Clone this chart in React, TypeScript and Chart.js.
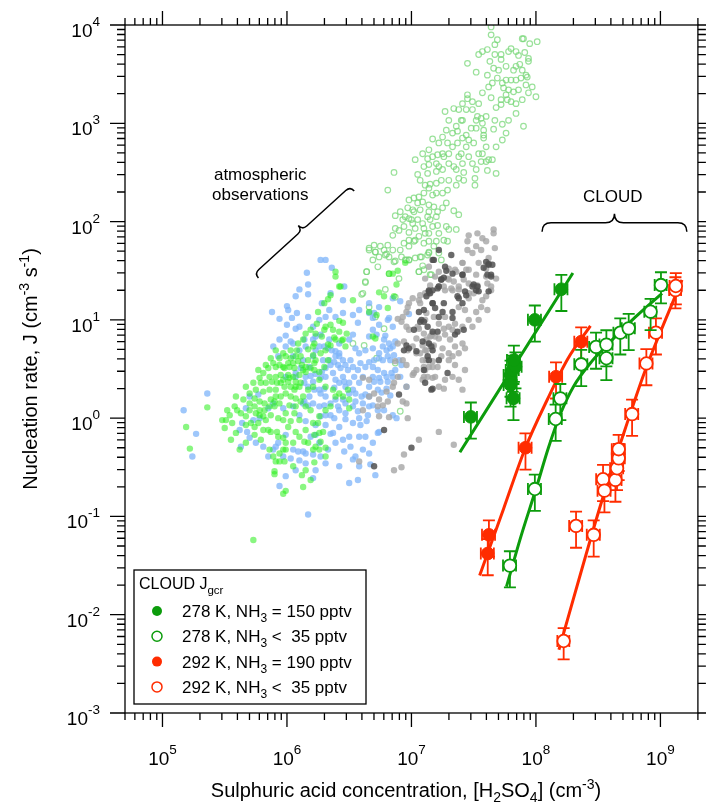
import React, { useEffect, useRef } from 'react';
import { Chart, registerables } from 'chart.js';

Chart.register(...registerables);

const FONT = '"Liberation Sans", Arial, Helvetica, sans-serif';
const GREEN = '#0c9c0c';
const RED = '#ff2c00';

// ---- axes ----
const X_MIN = 5e4;
const X_MAX = 2e9;
const Y_MIN = 1e-3;
const Y_MAX = 1e4;
const xLabelExponents = [5, 6, 7, 8, 9];
const yLabelExponents = [-3, -2, -1, 0, 1, 2, 3, 4];

// ---- CLOUD measurements (H2SO4 in cm^-3, J in cm^-3 s^-1) ----
const cold150X = [3.0e7, 6.25e7, 6.25e7, 6.5e7, 6.85e7, 6.65e7, 6.6e7, 9.8e7, 1.6e8];
const cold150Y = [1.03, 2.75, 2.18, 3.09, 3.34, 3.9, 1.59, 10.0, 20.5];
const cold150YErr = [0.4, 0.4, 0.4, 0.4, 0.4, 0.4, 0.4, 0.4, 0.4];
const cold150XErr = [0.12, 0.12, 0.12, 0.12, 0.12, 0.12, 0.12, 0.12, 0.12];

const cold35X = [6.18e7, 9.8e7, 1.44e8, 1.57e8, 2.31e8, 3.04e8, 3.68e8, 3.68e8, 4.76e8, 5.56e8, 8.34e8, 1.01e9];
const cold35Y = [0.0316, 0.19, 0.98, 1.59, 3.53, 5.3, 5.6, 4.07, 7.4, 8.2, 12.1, 22.6];
const cold35YErr = [0.4, 0.4, 0.4, 0.4, 0.4, 0.4, 0.4, 0.4, 0.4, 0.4, 0.35, 0.35];
const cold35XErr = [0.12, 0.12, 0.12, 0.12, 0.12, 0.12, 0.12, 0.12, 0.12, 0.12, 0.11, 0.11];

const warm190X = [4.1e7, 4.19e7, 8.24e7, 1.45e8, 2.31e8];
const warm190Y = [0.042, 0.065, 0.5, 2.64, 6.0];
const warm190YErr = [0.4, 0.4, 0.4, 0.4, 0.4];
const warm190XErr = [0.12, 0.12, 0.12, 0.12, 0.12];

const warm35X = [1.67e8, 2.1e8, 2.91e8, 3.46e8, 3.55e8, 4.35e8, 4.48e8, 4.62e8, 4.62e8, 5.92e8, 7.71e8, 9.2e8, 1.32e9, 1.33e9];
const warm35Y = [0.0054, 0.08, 0.065, 0.239, 0.183, 0.235, 0.309, 0.39, 0.483, 1.1, 3.6, 7.4, 20.1, 22.1];
const warm35YErr = [0.35, 0.4, 0.4, 0.4, 0.4, 0.4, 0.4, 0.4, 0.4, 0.4, 0.4, 0.4, 0.35, 0.35];
const warm35XErr = [0.11, 0.12, 0.12, 0.12, 0.12, 0.12, 0.12, 0.12, 0.12, 0.12, 0.12, 0.12, 0.11, 0.11];

// ---- CLOUD fit curves ----
const cold150FitX = [2.45e7, 1.98e8];
const cold150FitY = [0.45, 30];
const cold35FitX = [5.8e7, 7.59e7, 1.0e8, 1.26e8, 1.58e8, 2.0e8, 2.82e8, 3.98e8, 6.31e8, 1.03e9];
const cold35FitY = [0.0193, 0.063, 0.19, 0.5, 1.12, 2.09, 3.8, 6.03, 10.7, 18.6];
const warm190FitX = [3.53e7, 5.5e7, 8.24e7, 1.23e8, 1.8e8, 2.74e8];
const warm190FitY = [0.025, 0.12, 0.5, 1.53, 4.0, 8.7];
const warm35FitX = [1.53e8, 3.4e8, 5.4e8, 7.57e8, 1.49e9];
const warm35FitY = [0.0044, 0.147, 0.89, 3.09, 25.5];

// ---- atmospheric observations, as [log10 H2SO4, log10 J] ----
const obsBlueLog: number[][] = [
  [6.27,1.61],[6.31,1.61],[6.36,1.53],[6.16,1.48],[6.10,1.31],[6.17,1.36],[6.17,1.26],[6.07,1.24],[5.88,1.08],[6.00,1.14],
  [6.01,1.10],[6.08,1.07],[5.94,1.01],[6.04,1.02],[6.00,0.95],[6.17,1.03],[6.07,0.91],[5.99,0.84],[6.03,0.78],[6.14,0.80],
  [6.23,0.83],[6.27,0.85],[6.35,1.27],[6.45,1.20],[6.46,1.34],[6.28,1.17],[6.57,0.97],[6.66,1.07],[6.70,1.07],[6.69,1.02],
  [6.81,1.00],[6.82,1.02],[6.85,1.22],[6.91,1.19],[6.98,1.06],[6.66,0.83],[6.72,0.85],[6.79,0.84],[6.55,0.71],[6.58,0.66],
  [6.51,0.59],[6.42,0.66],[6.39,0.63],[6.41,0.54],[6.43,0.51],[6.34,0.59],[6.29,0.59],[6.26,0.73],[6.23,0.69],[6.21,0.63],
  [6.18,0.52],[6.13,0.59],[6.11,0.51],[6.05,0.63],[6.07,0.42],[6.15,0.42],[6.21,0.37],[6.27,0.41],[6.31,0.42],[6.37,0.46],
  [6.39,0.39],[6.45,0.42],[6.47,0.32],[6.53,0.29],[6.58,0.36],[6.61,0.42],[6.66,0.32],[6.69,0.52],[6.73,0.49],[6.78,0.46],
  [6.80,0.42],[6.77,0.59],[6.74,0.66],[6.80,0.69],[6.83,0.71],[6.85,0.73],[6.90,0.59],[6.92,0.54],[6.84,0.46],[6.66,0.22],
  [6.63,0.24],[6.60,0.22],[6.55,0.25],[6.50,0.25],[6.45,0.19],[6.39,0.19],[6.35,0.15],[6.31,0.22],[6.27,0.25],[6.21,0.15],
  [6.18,0.22],[6.14,0.17],[6.07,0.46],[5.99,0.42],[5.93,0.63],[5.70,0.22],[5.77,0.24],[5.67,0.10],[5.36,0.25],[5.17,0.08],
  [5.27,-0.16],[5.24,-0.39],[5.63,-0.29],[5.68,-0.14],[5.91,-0.29],[5.93,-0.25],[5.99,-0.17],[6.05,-0.32],[6.09,-0.34],[6.13,-0.34],
  [6.15,-0.36],[6.21,-0.37],[6.19,-0.19],[6.23,-0.17],[6.35,-0.16],[6.37,-0.15],[6.26,-0.25],[6.23,-0.07],[6.27,0.02],[6.31,0.03],
  [6.35,0.03],[6.38,0.00],[6.47,-0.01],[6.47,0.05],[6.53,0.12],[6.57,0.07],[6.65,0.03],[6.59,-0.07],[6.64,-0.03],[6.74,-0.14],
  [6.73,-0.15],[6.85,0.03],[6.88,0.00],[6.83,0.23],[6.80,0.30],[6.75,0.37],[6.91,0.42],[6.96,0.32],[6.58,-0.19],[6.51,-0.29],
  [6.46,-0.34],[6.53,-0.42],[6.55,-0.39],[6.61,-0.32],[6.67,-0.47],[6.71,-0.58],[6.57,-0.63],[6.50,-0.66],[6.21,-0.61],[6.17,-0.98],
  [5.94,-0.69],[5.85,-0.39],[6.13,0.15],[6.17,0.13],[6.30,0.13],[6.41,0.12],[6.69,0.13],[6.73,0.08],[6.78,0.08],
  [6.30,0.73],[6.33,0.71],[6.36,0.69],[6.39,0.68],[6.42,0.63],[6.45,0.59],[6.38,0.57],[6.35,0.54],[6.31,0.51],[6.28,0.47],
  [6.23,0.45],[6.19,0.43],[6.14,0.36],[6.17,0.32],[6.22,0.29],[6.26,0.29],[6.30,0.30],[6.38,0.31],[6.42,0.36],[6.46,0.37],
  [6.50,0.36],[6.54,0.42],[6.57,0.49],[6.59,0.56],[6.53,0.52],[6.49,0.49],[6.47,0.54],[6.63,0.52],[6.69,0.42],[6.74,0.41],
  [6.70,0.37],[6.73,0.29],[6.76,0.26],[6.81,0.37],[6.85,0.42],[6.87,0.49],[6.83,0.59],[6.86,0.64],[6.81,0.63],[6.74,0.61],
  [6.70,0.59],[6.66,0.57],[6.63,0.69],[6.69,0.71],[6.77,0.73],[6.82,0.76],[6.87,0.78],[6.78,0.80],[6.69,0.90],[6.74,0.95],
  [6.85,0.93],[6.53,0.85],[6.50,0.80],[6.42,0.76],[6.34,0.80],[6.21,0.80],[6.15,0.73],[6.10,0.69],[6.05,0.76],[5.99,0.73],
  [5.94,0.80],[5.89,0.73],[6.10,0.93],[6.21,0.93],[6.26,1.00],[6.31,1.03],[6.39,1.03],[6.45,1.07],[6.53,1.05],[6.58,1.10],
  [6.66,1.17],[6.74,1.13],[6.34,1.10],[6.26,0.12],[6.42,0.08],[6.47,0.15],[6.55,0.17],[6.61,0.15],[6.66,0.12],[6.58,0.00],
  [6.53,-0.05],[6.42,-0.09],[6.31,-0.07],[6.15,-0.03],[6.10,0.03],[6.05,0.12],[5.97,0.10],[5.89,0.15],[5.85,0.10],[5.78,0.00],
  [5.73,-0.02],[5.64,-0.05],[5.62,-0.12],[5.70,-0.20],[5.75,-0.25],[5.81,-0.29],[5.89,-0.32],[5.97,-0.39],[6.03,-0.41],[6.10,-0.43],
  [6.15,-0.46],[6.27,-0.39],[6.33,-0.32],[6.39,-0.25],[6.45,-0.22],[6.50,-0.19],[6.63,-0.19],[6.69,-0.25],[6.66,-0.36],[6.58,-0.49],
  [6.42,-0.49],[6.31,-0.46],[6.23,-0.53],[6.07,-0.53],[5.99,-0.59]
];

const obsGreenLog: number[][] = [
  [6.39,1.49],[6.39,1.44],[6.43,1.34],[6.35,1.25],[6.33,1.21],[6.30,1.17],[6.25,1.08],[6.24,0.96],[6.31,0.93],[6.37,0.90],
  [6.42,0.99],[6.45,0.97],[6.48,0.86],[6.44,0.79],[6.38,0.82],[6.33,0.75],[6.35,0.74],[6.28,0.83],[6.23,0.86],[6.19,0.90],
  [6.09,0.76],[6.08,0.69],[6.07,0.63],[6.17,0.70],[6.21,0.64],[6.22,0.56],[6.19,0.51],[6.15,0.52],[6.13,0.49],[6.06,0.51],
  [6.01,0.56],[5.97,0.52],[5.91,0.52],[5.91,0.69],[5.94,0.61],[5.99,0.63],[6.03,0.61],[5.85,0.51],[5.77,0.49],[5.83,0.54],
  [5.86,0.42],[5.83,0.36],[5.79,0.36],[5.75,0.29],[5.81,0.27],[5.86,0.29],[5.91,0.29],[5.95,0.36],[5.98,0.32],[6.01,0.37],
  [6.03,0.32],[6.06,0.29],[5.99,0.25],[5.95,0.22],[5.91,0.22],[5.87,0.19],[5.82,0.15],[5.78,0.17],[5.74,0.12],[5.70,0.15],
  [5.75,0.05],[5.78,0.03],[5.81,0.02],[5.83,-0.02],[5.77,-0.05],[5.74,-0.09],[5.71,-0.05],[5.67,0.02],[5.63,0.05],[5.60,0.08],
  [5.59,0.22],[5.54,0.03],[5.51,-0.02],[5.48,-0.02],[5.50,-0.10],[5.55,-0.22],[5.59,-0.15],[5.67,-0.07],[5.79,-0.22],[5.85,-0.12],
  [5.92,-0.14],[5.97,-0.20],[5.99,-0.25],[6.07,-0.14],[6.10,-0.02],[6.06,0.05],[6.07,0.12],[6.02,0.13],[5.99,0.05],[5.97,-0.02],
  [6.03,-0.03],[6.01,-0.09],[5.93,0.00],[5.90,0.12],[5.87,0.03],[6.26,-0.15],[6.27,-0.24],[6.31,-0.30],[6.23,-0.29],[6.21,-0.32],
  [6.17,-0.25],[6.14,-0.24],[5.97,-0.32],[5.94,-0.36],[5.91,-0.44],[5.94,-0.44],[5.98,-0.44],[5.90,-0.54],[5.90,-0.57],[5.97,-0.77],
  [5.99,-0.74],[6.12,-0.58],[6.13,-0.70],[6.19,-0.63],[6.22,-0.45],[6.25,-0.05],[6.29,-0.14],[6.22,-0.17],[6.17,0.59],[6.22,0.49],
  [6.26,0.47],[6.30,0.52],[6.33,0.59],[6.26,0.39],[6.21,0.32],[6.17,0.29],[6.13,0.22],[6.10,0.32],[6.31,0.32],[6.37,0.29],
  [6.42,0.25],[6.49,0.29],[6.50,0.19],[6.50,0.10],[6.45,0.22],[6.45,0.80],[6.53,1.20],[6.42,1.34],[6.69,0.83],[6.71,0.81],
  [6.81,1.12],[6.66,1.08],[6.72,1.05],[6.74,1.28],[6.78,1.24],[6.86,1.24],[6.88,1.36],[6.82,1.47],[6.85,1.47],[6.89,1.50],
  [6.95,1.58],[5.58,0.12],[5.36,0.11],[5.19,-0.09],[5.22,-0.31],[5.73,-1.24],
  [5.89,0.56],[5.94,0.54],[5.98,0.51],[6.02,0.52],[6.05,0.56],[6.09,0.58],[6.12,0.54],[6.15,0.47],[6.10,0.44],[6.05,0.42],
  [6.01,0.44],[5.95,0.44],[5.91,0.42],[5.88,0.37],[5.92,0.36],[5.97,0.39],[6.02,0.41],[6.07,0.37],[6.11,0.36],[6.07,0.32],
  [6.03,0.22],[6.07,0.20],[6.11,0.17],[6.15,0.12],[6.19,0.08],[5.94,0.15],[5.90,0.17],[5.86,0.12],[5.82,0.08],[5.78,0.08],
  [5.74,0.20],[5.70,0.25],[5.67,0.32],[5.73,0.36],[5.78,0.41],[5.81,0.46],[5.87,0.61],[5.97,0.66],[6.03,0.69],[6.11,0.63],
  [6.23,0.59],[6.27,0.66],[6.31,0.69],[6.21,0.73],[6.13,0.80],[6.15,0.86],[6.22,0.76],[6.30,0.90],[6.35,0.95],[6.42,0.88],
  [6.39,0.80],[6.47,0.73],[6.39,0.22],[6.35,0.12],[6.31,0.08],[6.26,0.02],[6.21,-0.05],[6.15,-0.12],[6.10,-0.19],[6.05,-0.25],
  [5.99,-0.32],[5.93,-0.19],[5.87,-0.14],[5.81,-0.12],[5.74,-0.17],[5.67,-0.25],[5.62,-0.32],[5.56,-0.05],[5.52,0.08],[5.65,0.19],
  [5.70,0.08],[5.86,-0.32],[5.89,-0.39],[6.05,-0.49],[6.15,-0.53],[6.26,-0.32],[6.31,-0.39]
];

const obsOpenLog: number[][] = [
  [7.64,3.98],[7.64,3.90],[7.69,3.85],[7.67,3.80],[7.61,3.75],[7.57,3.73],[7.54,3.70],[7.67,3.70],[7.72,3.70],[7.63,3.63],
  [7.45,3.61],[7.52,3.52],[7.66,3.56],[7.72,3.65],[7.80,3.76],[7.78,3.73],[7.84,3.73],[7.89,3.86],[7.90,3.86],[7.95,3.81],
  [8.01,3.83],[7.91,3.72],[7.94,3.66],[7.94,3.63],[7.86,3.69],[7.87,3.60],[7.82,3.54],[7.89,3.54],[7.92,3.49],[7.88,3.46],
  [7.84,3.44],[7.80,3.44],[7.76,3.44],[7.73,3.41],[7.69,3.46],[7.65,3.41],[7.74,3.36],[7.78,3.34],[7.82,3.32],[7.86,3.34],
  [7.92,3.39],[7.93,3.47],[7.76,3.29],[7.80,3.22],[7.77,3.24],[7.72,3.24],[7.68,3.16],[7.64,3.26],[7.72,3.19],[8.00,3.27],
  [7.90,2.97],[7.76,2.90],[7.73,2.99],[7.67,3.03],[7.66,2.94],[7.60,3.07],[7.56,3.05],[7.53,3.07],[7.57,3.00],[7.58,2.93],
  [7.58,2.88],[7.58,2.85],[7.52,3.03],[7.52,2.95],[7.48,2.95],[7.44,3.14],[7.49,3.22],[7.45,3.25],[7.45,3.29],[7.34,3.15],
  [7.27,3.12],[7.40,3.03],[7.41,3.03],[7.36,2.97],[7.33,2.90],[7.37,2.92],[7.44,2.88],[7.41,2.85],[7.46,2.83],[7.50,2.80],
  [7.44,2.76],[7.37,2.80],[7.33,2.76],[7.29,2.80],[7.22,2.80],[7.17,2.84],[7.25,2.69],[7.21,2.68],[7.17,2.66],[7.13,2.64],
  [7.14,2.58],[7.20,2.59],[7.22,2.56],[7.26,2.66],[7.30,2.59],[7.34,2.56],[7.38,2.66],[7.40,2.69],[7.30,2.69],[7.25,2.53],
  [7.20,2.51],[7.13,2.49],[7.05,2.48],[7.24,2.42],[7.20,2.39],[7.15,2.38],[7.11,2.37],[7.20,2.29],[7.17,2.27],[7.14,2.34],
  [7.29,2.32],[7.36,2.37],[7.38,2.44],[7.42,2.42],[7.42,2.50],[7.49,2.59],[7.52,2.53],[7.51,2.44],[7.51,2.37],[7.56,2.61],
  [7.60,2.61],[7.62,2.63],[7.65,2.63],[7.61,2.52],[7.68,2.49],[7.28,2.19],[7.25,2.14],[7.18,2.15],[7.14,2.17],[7.09,2.20],
  [7.06,2.25],[7.02,2.24],[6.98,2.22],[6.97,2.14],[7.02,2.10],[7.07,2.12],[7.14,2.10],[7.21,2.10],[7.20,2.05],[7.15,2.02],
  [7.13,2.05],[7.00,2.02],[6.98,2.03],[7.01,1.98],[6.94,1.95],[6.90,1.91],[6.87,1.93],[6.85,1.86],[6.98,1.89],[7.03,1.93],
  [7.10,1.93],[7.11,1.88],[7.06,1.85],[7.02,1.80],[6.98,1.81],[6.94,1.78],[7.03,1.81],[7.10,1.78],[7.14,1.80],[7.20,1.80],
  [7.26,1.81],[7.29,1.80],[7.28,1.95],[7.30,1.92],[7.36,1.92],[7.34,2.11],[7.38,2.07],[6.91,2.10],[6.87,2.06],[6.86,2.50],
  [6.81,2.32],[7.07,1.64],[7.03,1.63],[6.98,1.61],[6.96,1.61],[6.92,1.64],[6.87,1.60],[6.82,1.64],[6.81,1.76],[6.75,1.75],
  [6.70,1.76],[6.66,1.73],[6.71,1.69],[6.80,1.67],[6.73,1.54],[6.64,1.49],[7.06,1.49],[7.10,1.51],[7.15,1.46],[7.14,1.69],
  [7.13,1.66],[6.90,1.42],[6.82,1.47],[6.63,1.39],[6.61,1.27],[7.21,1.96],[7.22,1.68],[7.24,1.61],
  [6.66,1.71],[6.71,1.69],[6.79,1.66],[6.86,1.59],[6.95,1.61],[6.98,1.61],[7.08,1.64],[7.14,1.68],[7.09,1.55],[7.06,1.49],
  [7.16,1.46],[6.64,1.49],[6.63,1.38],[6.60,1.26],[6.66,1.13],[6.71,1.03],[6.79,1.31],[6.87,1.23],[6.53,0.76],[6.62,0.74],
  [6.72,0.61],[6.87,0.56],[6.91,0.07],[6.78,0.91],
  [7.10,2.56],[7.07,2.42],[7.10,2.29],[7.05,2.19],[7.01,2.12],[6.95,2.05],[6.93,2.02],[7.05,2.02],[7.09,1.98],[7.17,1.95],
  [7.22,1.88],[7.18,1.75],[7.14,1.88],[6.98,1.75],[6.91,1.71],[6.85,1.71],[6.78,1.71],[6.74,1.64],[6.69,1.61],[7.25,2.29],
  [7.30,2.42],[7.36,2.53],[7.41,2.59],[7.46,2.66],[7.54,2.69],[7.60,2.76],[7.57,2.69],[7.68,2.76],[7.73,2.83],[7.78,3.03],
  [7.84,3.10],[7.84,3.20],[7.89,3.24],[7.94,3.31],[7.97,3.37],[7.84,3.58],[7.76,3.58],[7.70,3.54],[7.61,3.49],[7.62,3.37],
  [7.57,3.31],[7.54,3.20],[7.49,3.14],[7.41,3.20],[7.38,3.14],[7.30,3.03],[7.28,2.93],[7.25,2.86],[7.14,2.73],[7.09,2.69],
  [7.03,2.63]
];

const obsGrayLightLog: number[][] = [
  [7.54,1.58],[7.60,1.52],[7.52,1.46],[7.46,1.51],[7.35,1.51],[7.30,1.52],[7.41,1.58],[7.22,1.49],[7.11,1.42],[7.15,1.35],
  [7.22,1.34],[7.27,1.30],[7.33,1.30],[7.38,1.34],[7.46,1.37],[7.53,1.35],[7.61,1.37],[7.64,1.30],[7.57,1.20],[7.60,1.24],
  [7.46,1.22],[7.38,1.13],[7.43,1.10],[7.52,1.08],[7.46,1.00],[7.35,0.96],[7.27,1.03],[7.30,0.93],[7.22,0.96],[7.18,1.03],
  [7.11,1.00],[7.10,0.86],[7.15,0.83],[7.22,0.81],[7.27,0.85],[7.31,0.80],[7.41,0.76],[7.43,0.71],[7.35,0.73],[7.25,0.71],
  [7.18,0.74],[7.11,0.69],[7.09,0.59],[7.14,0.52],[7.21,0.52],[7.30,0.59],[7.33,0.63],[7.27,0.39],[7.22,0.32],[7.09,0.39],
  [7.13,0.42],[7.41,0.29],[7.26,0.30],[7.35,0.54],[7.06,0.91],[7.07,1.17],[7.11,1.27],
  [6.89,1.01],[6.93,1.03],[6.96,1.08],[6.97,1.13],[6.92,0.98],[6.96,0.93],[6.98,0.90],[7.05,0.93],[7.04,0.81],[7.12,0.80],
  [7.16,0.84],[7.17,0.73],[7.12,0.69],[7.09,0.74],[7.01,0.73],[6.97,0.69],[6.89,0.76],[6.94,0.78],[7.04,0.66],[7.12,0.59],
  [7.17,0.52],[7.10,0.52],[7.04,0.49],[7.01,0.44],[6.96,0.54],[6.93,0.59],[6.87,0.58],[6.89,0.42],[6.86,0.36],[6.80,0.27],
  [6.70,0.25],[6.66,0.22],[6.74,0.19],[6.81,0.17],[6.77,0.13],[6.73,0.12],[6.61,0.08],[6.61,0.41],[6.66,0.39],[6.74,0.02],
  [6.82,0.01],[6.93,0.17],[6.96,0.15],[6.97,0.00],[6.85,0.32],[6.96,0.32],[7.02,0.46],[7.10,0.42],[7.17,0.41],[7.17,0.86],
  [7.12,1.07],[7.06,1.20],[7.01,1.22],[6.98,1.17],[6.58,-0.44],[6.92,-0.50],
  [7.46,1.86],[7.53,1.88],[7.57,1.83],[7.60,1.80],[7.66,1.92],[7.66,1.88],[7.45,1.80],[7.45,1.71],[7.49,1.68],[7.52,1.75],
  [7.56,1.71],[7.62,1.63],[7.67,1.73],[7.41,1.58],[7.44,1.51],[7.36,1.49],[7.30,1.41],[7.26,1.34],[7.32,1.32],[7.38,1.31],
  [7.46,1.27],[7.53,1.34],[7.60,1.44],[7.64,1.34],[7.68,1.42],[7.07,1.25],[7.14,1.27],
  [7.06,-0.22],[7.22,-0.14],[7.34,-0.27],[6.94,-0.37],[6.86,-0.53],
  [7.14,1.54],[7.19,1.44],[7.29,1.42],[7.34,1.39],[7.42,1.41],[7.50,1.27],[7.56,1.13],[7.61,1.10],[7.54,1.00],[7.49,0.93],
  [7.41,0.93],[7.33,0.90],[7.26,0.91],[7.19,0.83],[7.14,0.76],[7.38,0.66],[7.30,0.66],[7.24,0.63],[7.17,0.58],[7.11,0.49],
  [7.19,0.42],[7.33,0.42],[7.43,0.49],[7.38,0.39],[7.07,0.66]
];

const obsGrayDarkLog: number[][] = [
  [7.62,1.57],[7.64,1.46],[7.41,1.46],[7.33,1.47],[7.24,1.41],[7.21,1.32],[7.15,1.27],[7.17,1.17],[7.26,1.17],[7.25,1.08],
  [7.19,1.12],[7.10,1.10],[7.07,0.98],[7.13,0.93],[7.21,0.88],[7.22,1.03],[7.33,1.08],[7.33,1.02],[7.38,1.22],[7.41,1.17],
  [7.37,0.88],[7.42,0.90],[7.35,0.85],[7.49,1.34],[7.54,1.29],[7.62,1.29],[7.43,1.29],[7.17,0.69],[7.22,0.59],[7.10,0.49],
  [7.17,0.30],[7.09,0.78],[7.29,0.46],[7.13,0.63],
  [7.17,1.61],[7.14,1.29],[7.17,1.30],[7.12,1.24],[7.17,1.17],[7.06,1.08],[7.08,1.00],[7.10,0.98],[7.02,0.90],[7.17,0.88],
  [7.14,0.76],[7.16,0.73],[6.96,0.74],[6.98,0.71],[6.94,0.69],[7.04,0.68],[7.14,0.59],[7.11,0.36],[7.16,0.29],[6.90,0.24],
  [7.22,1.71],[7.18,1.61],[7.27,1.54],[7.28,1.50],[7.32,1.66],[7.26,1.43],[7.41,1.46],[7.60,1.59],[7.62,1.56],[7.65,1.56],
  [7.58,1.53],[7.61,1.46],[7.64,1.44],[7.50,1.36],[7.53,1.34],[7.52,1.30],[7.37,1.24],[7.44,1.25],[7.14,1.30],[7.22,1.34],
  [7.24,1.41],[6.78,-0.12],[7.00,-0.30],[6.70,-0.49]
];

// ---- annotation anchors (data coordinates) ----
const atmosBraceFrom = [5.9e5, 26.7];
const atmosBraceTo = [3.47e6, 205];
const atmosLabelAt = [6.1e5, 265];
const cloudBraceFrom = [1.12e8, 79];
const cloudBraceTo = [1.63e9, 79];
const cloudLabelAt = [4.14e8, 158];

type Seg = { t: string; k?: 'sub' | 'sup' };

function drawRich(
  ctx: CanvasRenderingContext2D,
  segs: Seg[],
  x: number,
  y: number,
  size: number,
  small: number,
  supDy: number,
  subDy: number,
  align: 'left' | 'center' | 'right'
) {
  const widths = segs.map((s) => {
    ctx.font = `${s.k ? small : size}px ${FONT}`;
    return ctx.measureText(s.t).width;
  });
  const total = widths.reduce((a, b) => a + b, 0);
  let cx = align === 'center' ? x - total / 2 : align === 'right' ? x - total : x;
  ctx.textAlign = 'left';
  ctx.textBaseline = 'alphabetic';
  segs.forEach((s, i) => {
    ctx.font = `${s.k ? small : size}px ${FONT}`;
    const dy = s.k === 'sup' ? -supDy : s.k === 'sub' ? subDy : 0;
    ctx.fillText(s.t, cx, y + dy);
    cx += widths[i];
  });
}

function drawBrace(ctx: CanvasRenderingContext2D, x1: number, y1: number, x2: number, y2: number, q: number) {
  const dx = x2 - x1;
  const dy = y2 - y1;
  const len = Math.hypot(dx, dy);
  const ux = dx / len;
  const uy = dy / len;
  const nx = uy;
  const ny = -ux;
  const mx = (x1 + x2) / 2;
  const my = (y1 + y2) / 2;
  ctx.beginPath();
  ctx.moveTo(x1, y1);
  ctx.quadraticCurveTo(x1 + nx * q, y1 + ny * q, x1 + nx * q + ux * q, y1 + ny * q + uy * q);
  ctx.lineTo(mx - ux * q + nx * q, my - uy * q + ny * q);
  ctx.quadraticCurveTo(mx + nx * q, my + ny * q, mx + nx * 2 * q, my + ny * 2 * q);
  ctx.quadraticCurveTo(mx + nx * q, my + ny * q, mx + ux * q + nx * q, my + uy * q + ny * q);
  ctx.lineTo(x2 - ux * q + nx * q, y2 - uy * q + ny * q);
  ctx.quadraticCurveTo(x2 + nx * q, y2 + ny * q, x2, y2);
  ctx.stroke();
}

const errorBarPlugin = {
  id: 'errorBars',
  beforeDatasetDraw(chart: any, args: any) {
    const ds = chart.data.datasets[args.index];
    if (!ds.errY) return;
    const { ctx } = chart;
    const xs = chart.scales.x;
    const ys = chart.scales.y;
    ctx.save();
    ctx.strokeStyle = ds.errColor;
    ctx.lineWidth = 1.8;
    const c = 6;
    ds.data.forEach((p: any, i: number) => {
      const px = xs.getPixelForValue(p.x);
      const py = ys.getPixelForValue(p.y);
      const yTop = ys.getPixelForValue(p.y * (1 + ds.errY[i]));
      const yBot = ys.getPixelForValue(p.y * (1 - ds.errY[i]));
      const xL = xs.getPixelForValue(p.x * (1 - ds.errX[i]));
      const xR = xs.getPixelForValue(p.x * (1 + ds.errX[i]));
      ctx.beginPath();
      ctx.moveTo(px, yBot);
      ctx.lineTo(px, yTop);
      ctx.moveTo(px - c, yBot);
      ctx.lineTo(px + c, yBot);
      ctx.moveTo(px - c, yTop);
      ctx.lineTo(px + c, yTop);
      ctx.moveTo(xL, py);
      ctx.lineTo(xR, py);
      ctx.moveTo(xL, py - c);
      ctx.lineTo(xL, py + c);
      ctx.moveTo(xR, py - c);
      ctx.lineTo(xR, py + c);
      ctx.stroke();
    });
    ctx.restore();
  },
};

const framePlugin = {
  id: 'igorFrame',
  afterDraw(chart: any) {
    const { ctx, chartArea: a } = chart;
    const xs = chart.scales.x;
    const ys = chart.scales.y;
    ctx.save();
    ctx.strokeStyle = '#000';
    ctx.fillStyle = '#000';
    ctx.lineWidth = 1.3;
    ctx.strokeRect(a.left, a.top, a.right - a.left, a.bottom - a.top);

    // ticks
    ctx.beginPath();
    for (let e = 4; e <= 9; e++) {
      for (let m = 1; m <= 9; m++) {
        const v = m * Math.pow(10, e);
        if (v < X_MIN * 0.999 || v > X_MAX * 1.001) continue;
        const px = xs.getPixelForValue(v);
        const len = m === 1 ? 14 : 7;
        ctx.moveTo(px, a.bottom);
        ctx.lineTo(px, a.bottom + len);
        ctx.moveTo(px, a.top);
        ctx.lineTo(px, a.top - len);
      }
    }
    for (let e = -3; e <= 4; e++) {
      for (let m = 1; m <= 9; m++) {
        const v = m * Math.pow(10, e);
        if (v < Y_MIN * 0.999 || v > Y_MAX * 1.001) continue;
        const py = ys.getPixelForValue(v);
        const len = m === 1 ? 15 : 8;
        ctx.moveTo(a.left, py);
        ctx.lineTo(a.left - len, py);
        ctx.moveTo(a.right, py);
        ctx.lineTo(a.right + len, py);
      }
    }
    ctx.stroke();

    // tick labels
    yLabelExponents.forEach((e) => {
      const py = ys.getPixelForValue(Math.pow(10, e));
      drawRich(ctx, [{ t: '10' }, { t: String(e), k: 'sup' }], a.left - 25, py + 12, 19, 13.5, 11, 0, 'right');
    });
    xLabelExponents.forEach((e) => {
      const px = xs.getPixelForValue(Math.pow(10, e));
      drawRich(ctx, [{ t: '10' }, { t: String(e), k: 'sup' }], px, a.bottom + 52, 19, 13.5, 11, 0, 'center');
    });

    // axis titles
    drawRich(
      ctx,
      [
        { t: 'Sulphuric acid concentration, [H' },
        { t: '2', k: 'sub' },
        { t: 'SO' },
        { t: '4', k: 'sub' },
        { t: '] (cm' },
        { t: '-3', k: 'sup' },
        { t: ')' },
      ],
      406,
      797,
      20,
      14,
      8,
      5,
      'center'
    );
    ctx.save();
    ctx.translate(37, (a.top + a.bottom) / 2);
    ctx.rotate(-Math.PI / 2);
    drawRich(
      ctx,
      [
        { t: 'Nucleation rate, J (cm' },
        { t: '-3', k: 'sup' },
        { t: ' s' },
        { t: '-1', k: 'sup' },
        { t: ')' },
      ],
      0,
      0,
      20,
      14,
      8,
      5,
      'center'
    );
    ctx.restore();

    // annotations
    ctx.lineWidth = 1.5;
    drawBrace(
      ctx,
      xs.getPixelForValue(atmosBraceFrom[0]),
      ys.getPixelForValue(atmosBraceFrom[1]),
      xs.getPixelForValue(atmosBraceTo[0]),
      ys.getPixelForValue(atmosBraceTo[1]),
      6
    );
    drawBrace(
      ctx,
      xs.getPixelForValue(cloudBraceFrom[0]),
      ys.getPixelForValue(cloudBraceFrom[1]),
      xs.getPixelForValue(cloudBraceTo[0]),
      ys.getPixelForValue(cloudBraceTo[1]),
      9
    );
    ctx.font = `17px ${FONT}`;
    ctx.textAlign = 'center';
    ctx.textBaseline = 'alphabetic';
    const ax = xs.getPixelForValue(atmosLabelAt[0]);
    const ay = ys.getPixelForValue(atmosLabelAt[1]);
    ctx.fillText('atmospheric', ax, ay);
    ctx.fillText('observations', ax, ay + 20);
    ctx.fillText('CLOUD', xs.getPixelForValue(cloudLabelAt[0]), ys.getPixelForValue(cloudLabelAt[1]));

    // legend
    const lx = 134;
    const ly = 570;
    const lw = 232;
    const lh = 134;
    ctx.fillStyle = '#fff';
    ctx.fillRect(lx, ly, lw, lh);
    ctx.lineWidth = 1.3;
    ctx.strokeStyle = '#000';
    ctx.strokeRect(lx, ly, lw, lh);
    ctx.fillStyle = '#000';
    drawRich(ctx, [{ t: 'CLOUD J' }, { t: 'gcr', k: 'sub' }], lx + 5, ly + 19, 16, 11.5, 0, 5, 'left');
    const rows = [
      { c: GREEN, filled: true, segs: [{ t: '278 K, NH' }, { t: '3', k: 'sub' as const }, { t: ' = 150 pptv' }] },
      { c: GREEN, filled: false, segs: [{ t: '278 K, NH' }, { t: '3', k: 'sub' as const }, { t: ' <  35 pptv' }] },
      { c: RED, filled: true, segs: [{ t: '292 K, NH' }, { t: '3', k: 'sub' as const }, { t: ' = 190 pptv' }] },
      { c: RED, filled: false, segs: [{ t: '292 K, NH' }, { t: '3', k: 'sub' as const }, { t: ' <  35 pptv' }] },
    ];
    rows.forEach((r, i) => {
      const cy = ly + 41 + i * 25.3;
      ctx.beginPath();
      ctx.arc(lx + 23, cy, 5, 0, Math.PI * 2);
      if (r.filled) {
        ctx.fillStyle = r.c;
        ctx.fill();
      } else {
        ctx.fillStyle = '#fff';
        ctx.fill();
        ctx.strokeStyle = r.c;
        ctx.lineWidth = 1.5;
        ctx.stroke();
      }
      ctx.fillStyle = '#000';
      drawRich(ctx, r.segs as Seg[], lx + 48, cy + 6, 17, 12, 0, 5, 'left');
    });
    ctx.restore();
  },
};

const pts = (xs: number[], ys: number[]) => xs.map((x, i) => ({ x, y: ys[i] }));
const fromLog = (arr: number[][]) => arr.map(([a, b]) => ({ x: Math.pow(10, a), y: Math.pow(10, b) }));

export default function App() {
  const ref = useRef<HTMLCanvasElement | null>(null);
  useEffect(() => {
    document.body.style.margin = '0';
    if (!ref.current) return;
    const markerBase = { pointRadius: 6.3, pointHoverRadius: 6.3, showLine: false, order: 0 };
    const fitBase = {
      showLine: true,
      pointRadius: 0,
      pointHoverRadius: 0,
      borderWidth: 3,
      fill: false,
      cubicInterpolationMode: 'monotone',
      order: 1,
    };
    const obsBase = { pointRadius: 3.2, pointHoverRadius: 3.2, pointBorderWidth: 0, showLine: false };
    const chart = new Chart(ref.current, {
      type: 'scatter',
      data: {
        datasets: [
          {
            ...markerBase,
            label: '278 K, NH3 = 150 pptv',
            data: pts(cold150X, cold150Y),
            pointBackgroundColor: GREEN,
            pointBorderColor: GREEN,
            pointBorderWidth: 1,
            errY: cold150YErr,
            errX: cold150XErr,
            errColor: GREEN,
          },
          {
            ...markerBase,
            label: '278 K, NH3 < 35 pptv',
            data: pts(cold35X, cold35Y),
            pointBackgroundColor: '#fff',
            pointBorderColor: GREEN,
            pointBorderWidth: 1.8,
            errY: cold35YErr,
            errX: cold35XErr,
            errColor: GREEN,
          },
          {
            ...markerBase,
            label: '292 K, NH3 = 190 pptv',
            data: pts(warm190X, warm190Y),
            pointBackgroundColor: RED,
            pointBorderColor: RED,
            pointBorderWidth: 1,
            errY: warm190YErr,
            errX: warm190XErr,
            errColor: RED,
          },
          {
            ...markerBase,
            label: '292 K, NH3 < 35 pptv',
            data: pts(warm35X, warm35Y),
            pointBackgroundColor: '#fff',
            pointBorderColor: RED,
            pointBorderWidth: 1.8,
            errY: warm35YErr,
            errX: warm35XErr,
            errColor: RED,
          },
          { ...fitBase, label: 'fit1', data: pts(cold150FitX, cold150FitY), borderColor: GREEN },
          { ...fitBase, label: 'fit2', data: pts(cold35FitX, cold35FitY), borderColor: GREEN },
          { ...fitBase, label: 'fit3', data: pts(warm190FitX, warm190FitY), borderColor: RED },
          { ...fitBase, label: 'fit4', data: pts(warm35FitX, warm35FitY), borderColor: RED },
          {
            ...obsBase,
            label: 'obs dark gray',
            data: fromLog(obsGrayDarkLog),
            pointBackgroundColor: 'rgba(80,80,80,0.85)',
            pointBorderColor: 'rgba(80,80,80,0.85)',
            order: 2,
          },
          {
            ...obsBase,
            label: 'obs light gray',
            data: fromLog(obsGrayLightLog),
            pointBackgroundColor: 'rgba(165,165,165,0.8)',
            pointBorderColor: 'rgba(165,165,165,0.8)',
            order: 3,
          },
          {
            ...obsBase,
            label: 'obs green',
            data: fromLog(obsGreenLog),
            pointBackgroundColor: 'rgba(40,238,25,0.55)',
            pointBorderColor: 'rgba(40,238,25,0.55)',
            order: 4,
          },
          {
            ...obsBase,
            label: 'obs blue',
            data: fromLog(obsBlueLog),
            pointBackgroundColor: 'rgba(125,180,250,0.75)',
            pointBorderColor: 'rgba(125,180,250,0.75)',
            order: 5,
          },
          {
            label: 'obs open green',
            data: fromLog(obsOpenLog),
            pointRadius: 2.8,
            pointHoverRadius: 2.8,
            pointBorderWidth: 1.2,
            pointBackgroundColor: 'rgba(0,0,0,0)',
            pointBorderColor: 'rgba(120,215,120,0.75)',
            showLine: false,
            order: 6,
          },
        ] as any,
      },
      options: {
        responsive: false,
        maintainAspectRatio: false,
        animation: false,
        devicePixelRatio: 1,
        events: [],
        layout: { padding: { left: 125, top: 25, right: 7, bottom: 91 } },
        plugins: { legend: { display: false }, tooltip: { enabled: false }, title: { display: false } },
        scales: {
          x: { type: 'logarithmic', min: X_MIN, max: X_MAX, display: false },
          y: { type: 'logarithmic', min: Y_MIN, max: Y_MAX, display: false },
        },
      } as any,
      plugins: [errorBarPlugin, framePlugin],
    });
    return () => chart.destroy();
  }, []);
  return <canvas ref={ref} width={706} height={804} style={{ display: 'block' }} />;
}
